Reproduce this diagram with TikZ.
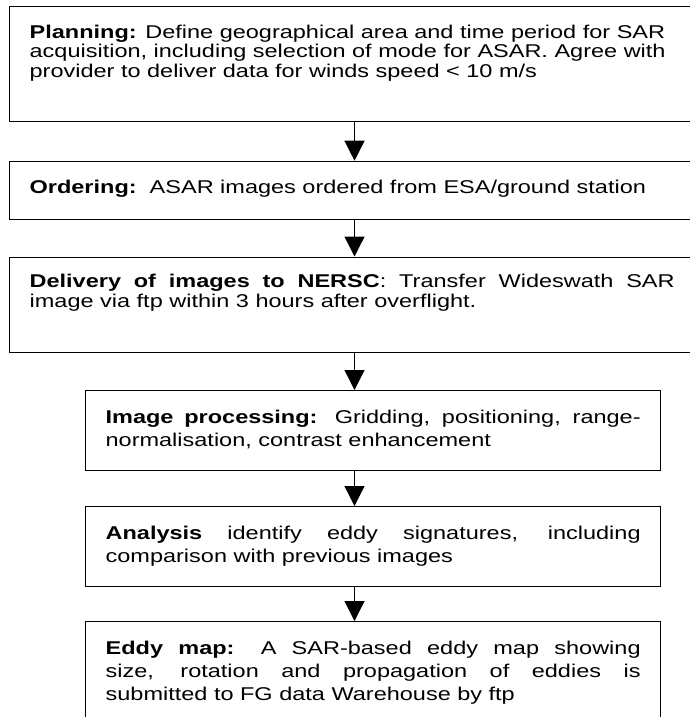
\documentclass[tikz,border=0pt]{standalone}
\usepackage{fontspec}
\setmainfont{Liberation Sans}[FakeStretch=1.27]
\usetikzlibrary{arrows.meta}
% #1 text width, #2 box height, #3 space above the first line, #4 text
\newcommand\flowtext[4]{\parbox[t][#2][t]{#1}{\vspace*{#3}\strut#4}}
\begin{document}
\begin{tikzpicture}[x=1pt,y=-1pt,
  stage/.style={draw, line width=1.3pt, rectangle, anchor=north west,
    inner xsep=20pt, inner ysep=0pt,
    font=\fontsize{18.5}{19.5}\selectfont},
  loose/.style={font=\fontsize{18.5}{23}\selectfont},
  flow/.style={line width=1.3pt, -{Triangle[length=20pt,width=20pt]}}]
\useasboundingbox (0,0) rectangle (690,717);
\clip (0,0) rectangle (690,717);

\node[stage] (plan) at (9,6) {\flowtext{700pt}{115pt}{18pt}{\raggedright
  \textbf{Planning:} Define geographical area and time period for SAR\\
  acquisition, including selection of mode for ASAR. Agree with\\
  provider to deliver data for winds speed < 10 m/s}};

\node[stage] (order) at (9,160.7) {\flowtext{700pt}{58pt}{18.3pt}{\raggedright
  \textbf{Ordering:}\ \ ASAR images ordered from ESA/ground station}};

\node[stage] (deliver) at (9,256.5) {\flowtext{645pt}{95pt}{17pt}{%
  \textbf{Delivery of images to NERSC}: Transfer Wideswath SAR\linebreak
  image via ftp within 3 hours after overflight.}\hspace{60pt}};

\node[stage, loose] (process) at (85,390) {\flowtext{535pt}{80pt}{17pt}{%
  \textbf{Image processing:} Gridding, positioning, range-\linebreak
  normalisation, contrast enhancement}\hspace{3pt}};

\node[stage, loose] (analysis) at (85,506) {\flowtext{535pt}{80pt}{16.5pt}{%
  \textbf{Analysis} identify eddy signatures, including\linebreak
  comparison with previous images}\hspace{3pt}};

\node[stage, loose] (eddymap) at (85,621) {\flowtext{535pt}{120pt}{16.5pt}{%
  \textbf{Eddy map:} A SAR-based eddy map showing\linebreak
  size, rotation and propagation of eddies is\linebreak
  submitted to FG data Warehouse by ftp}\hspace{3pt}};

% all connectors run down one common vertical line
\coordinate (ax) at (354.5,0);
\draw[flow] (plan.south -| ax) -- (order.north -| ax);
\draw[flow] (order.south -| ax) -- (deliver.north -| ax);
\draw[flow] (deliver.south -| ax) -- (process.north -| ax);
\draw[flow] (process.south -| ax) -- (analysis.north -| ax);
\draw[flow] (analysis.south -| ax) -- (eddymap.north -| ax);
\end{tikzpicture}
\end{document}
